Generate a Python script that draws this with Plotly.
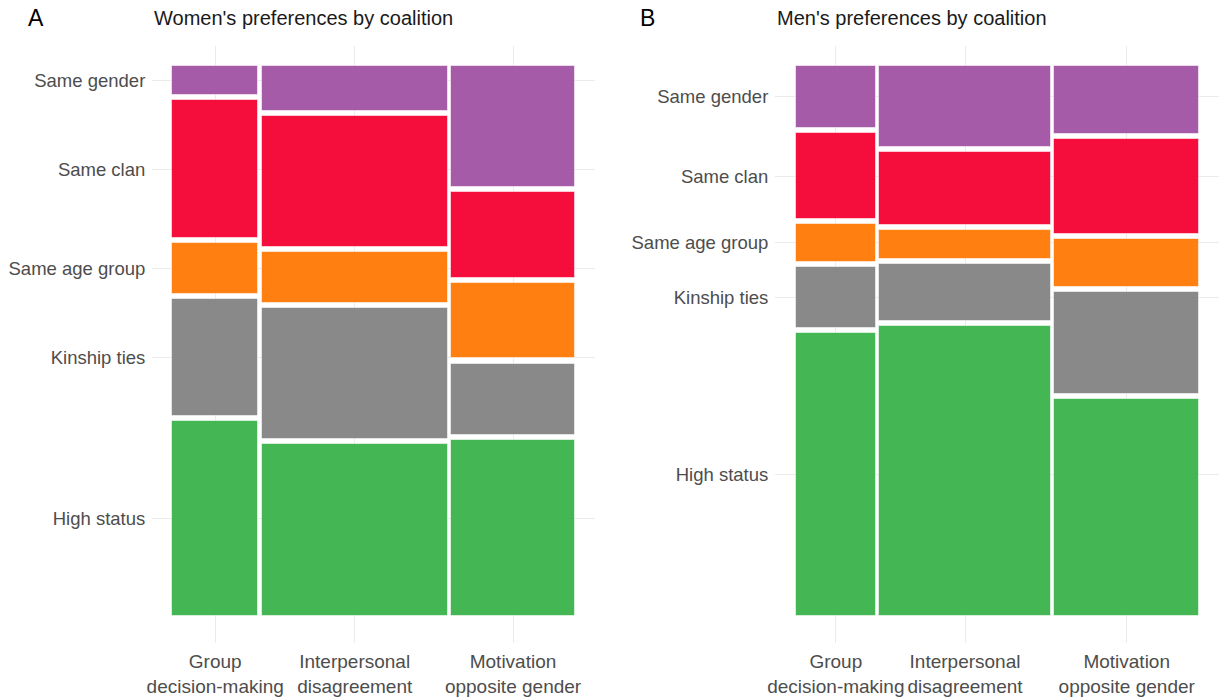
import plotly.graph_objects as go

# Coalition types (x) and partner preferences (stacked, listed top to bottom)
coalitions = ["Group<br>decision-making", "Interpersonal<br>disagreement", "Motivation<br>opposite gender"]
preferences = ["Same gender", "Same clan", "Same age group", "Kinship ties", "High status"]

# Women: share of responses per coalition (column width, %) and per preference within coalition (%)
women_coalition_share = [21.8, 46.9, 31.3]
women_same_gender = [5.5, 8.4, 22.8]
women_same_clan = [26.0, 24.8, 16.2]
women_same_age = [9.6, 9.6, 14.3]
women_kinship = [22.1, 24.8, 13.4]
women_high_status = [36.8, 32.4, 33.3]

# Men
men_coalition_share = [20.1, 43.4, 36.5]
men_same_gender = [11.7, 15.2, 12.9]
men_same_clan = [16.3, 13.9, 17.9]
men_same_age = [7.0, 5.4, 9.0]
men_kinship = [11.6, 10.7, 19.2]
men_high_status = [53.4, 54.8, 41.0]

colors = {
    "Same gender": "rgba(160,82,163,0.95)",
    "Same clan": "rgba(244,0,48,0.95)",
    "Same age group": "rgba(255,120,3,0.95)",
    "Kinship ties": "rgba(131,131,131,0.95)",
    "High status": "rgba(59,178,75,0.95)",
}

W, H = 1225, 698
GX, GY = 0.0085, 0.0095  # spacing between tiles
UNIT_X, UNIT_Y = 396.3, 530.0  # pixels per data unit

FONT = "Liberation Sans, Arial, sans-serif"
TICK_COLOR = "#4D4D4D"
GRID = "#EBEBEB"


def mosaic(col_share, series):
    """series: dict preference -> list of % per coalition (top-to-bottom order)."""
    widths = [s / 100 for s in col_share]
    x0, acc = [], 0.0
    for i, w in enumerate(widths):
        x0.append(acc + i * GX)
        acc += w
    centers = [a + w / 2 for a, w in zip(x0, widths)]
    tiles = {}
    bottom_up = list(reversed(preferences))
    for c in range(len(widths)):
        acc_y = 0.0
        for k, p in enumerate(bottom_up):
            h = series[p][c] / 100
            base = acc_y + k * GY
            tiles.setdefault(p, {"base": [], "h": []})
            tiles[p]["base"].append(base)
            tiles[p]["h"].append(h)
            acc_y += h
    return widths, centers, tiles


panels = [
    dict(
        share=women_coalition_share,
        series={
            "Same gender": women_same_gender,
            "Same clan": women_same_clan,
            "Same age group": women_same_age,
            "Kinship ties": women_kinship,
            "High status": women_high_status,
        },
        left=152, right=595, data_left=172,
        title="Women's preferences by coalition", letter="A", letter_x=26,
    ),
    dict(
        share=men_coalition_share,
        series={
            "Same gender": men_same_gender,
            "Same clan": men_same_clan,
            "Same age group": men_same_age,
            "Kinship ties": men_kinship,
            "High status": men_high_status,
        },
        left=775, right=1219, data_left=796,
        title="Men's preferences by coalition", letter="B", letter_x=638,
    ),
]

PANEL_TOP, PANEL_BOTTOM = 46, 643
DATA_TOP, DATA_BOTTOM = 66, 616

fig = go.Figure()
annotations = []

for idx, pn in enumerate(panels):
    n = idx + 1
    xa = "x" if n == 1 else f"x{n}"
    ya = "y" if n == 1 else f"y{n}"
    widths, centers, tiles = mosaic(pn["share"], pn["series"])
    for p in reversed(preferences):
        t = tiles[p]
        fig.add_trace(go.Bar(
            x=centers, y=t["h"], base=t["base"], width=widths,
            marker=dict(color=colors[p], line=dict(color="rgba(255,255,255,0.55)", width=1)),
            xaxis=xa, yaxis=ya, showlegend=False, name=p, hoverinfo="skip",
        ))
    # y ticks sit at the middle of the first coalition's tiles
    ytick = [tiles[p]["base"][0] + tiles[p]["h"][0] / 2 for p in preferences]

    total_x = 1 + 2 * GX
    xr = [-(pn["data_left"] - pn["left"]) / UNIT_X,
          total_x + (pn["right"] - pn["data_left"] - total_x * UNIT_X) / UNIT_X]
    total_y = 1 + 4 * GY
    yr = [-(PANEL_BOTTOM - DATA_BOTTOM) / UNIT_Y, total_y + (DATA_TOP - PANEL_TOP) / UNIT_Y]

    axis_common = dict(showgrid=True, gridcolor=GRID, gridwidth=1.2, zeroline=False,
                       showline=False, ticks="outside", tickcolor="rgba(0,0,0,0)",
                       automargin=False, tickangle=0)
    fig.update_layout(**{
        ("xaxis" if n == 1 else f"xaxis{n}"): dict(
            axis_common, domain=[pn["left"] / W, pn["right"] / W], range=xr,
            tickmode="array", tickvals=centers, ticktext=coalitions, ticklen=1,
            tickfont=dict(family=FONT, size=19, color=TICK_COLOR),
            anchor=ya, fixedrange=True),
        ("yaxis" if n == 1 else f"yaxis{n}"): dict(
            axis_common, domain=[1 - PANEL_BOTTOM / H, 1 - PANEL_TOP / H], range=yr,
            tickmode="array", tickvals=ytick, ticktext=preferences, ticklen=2,
            tickfont=dict(family=FONT, size=18.5, color=TICK_COLOR),
            anchor=xa, fixedrange=True),
    })

    annotations.append(dict(text=pn["title"], x=pn["left"] / W, y=1 - 18 / H,
                            xref="paper", yref="paper", xanchor="left", yanchor="middle",
                            showarrow=False, font=dict(family=FONT, size=20, color="#1A1A1A")))
    annotations.append(dict(text=pn["letter"], x=pn["letter_x"] / W, y=1 - 18 / H,
                            xref="paper", yref="paper", xanchor="left", yanchor="middle",
                            showarrow=False, font=dict(family=FONT, size=23, color="#000000")))

fig.update_layout(
    width=W, height=H, margin=dict(l=0, r=0, t=0, b=0, autoexpand=False),
    paper_bgcolor="white", plot_bgcolor="white",
    barmode="overlay", bargap=0, annotations=annotations,
)

fig.write_html("out.html")
